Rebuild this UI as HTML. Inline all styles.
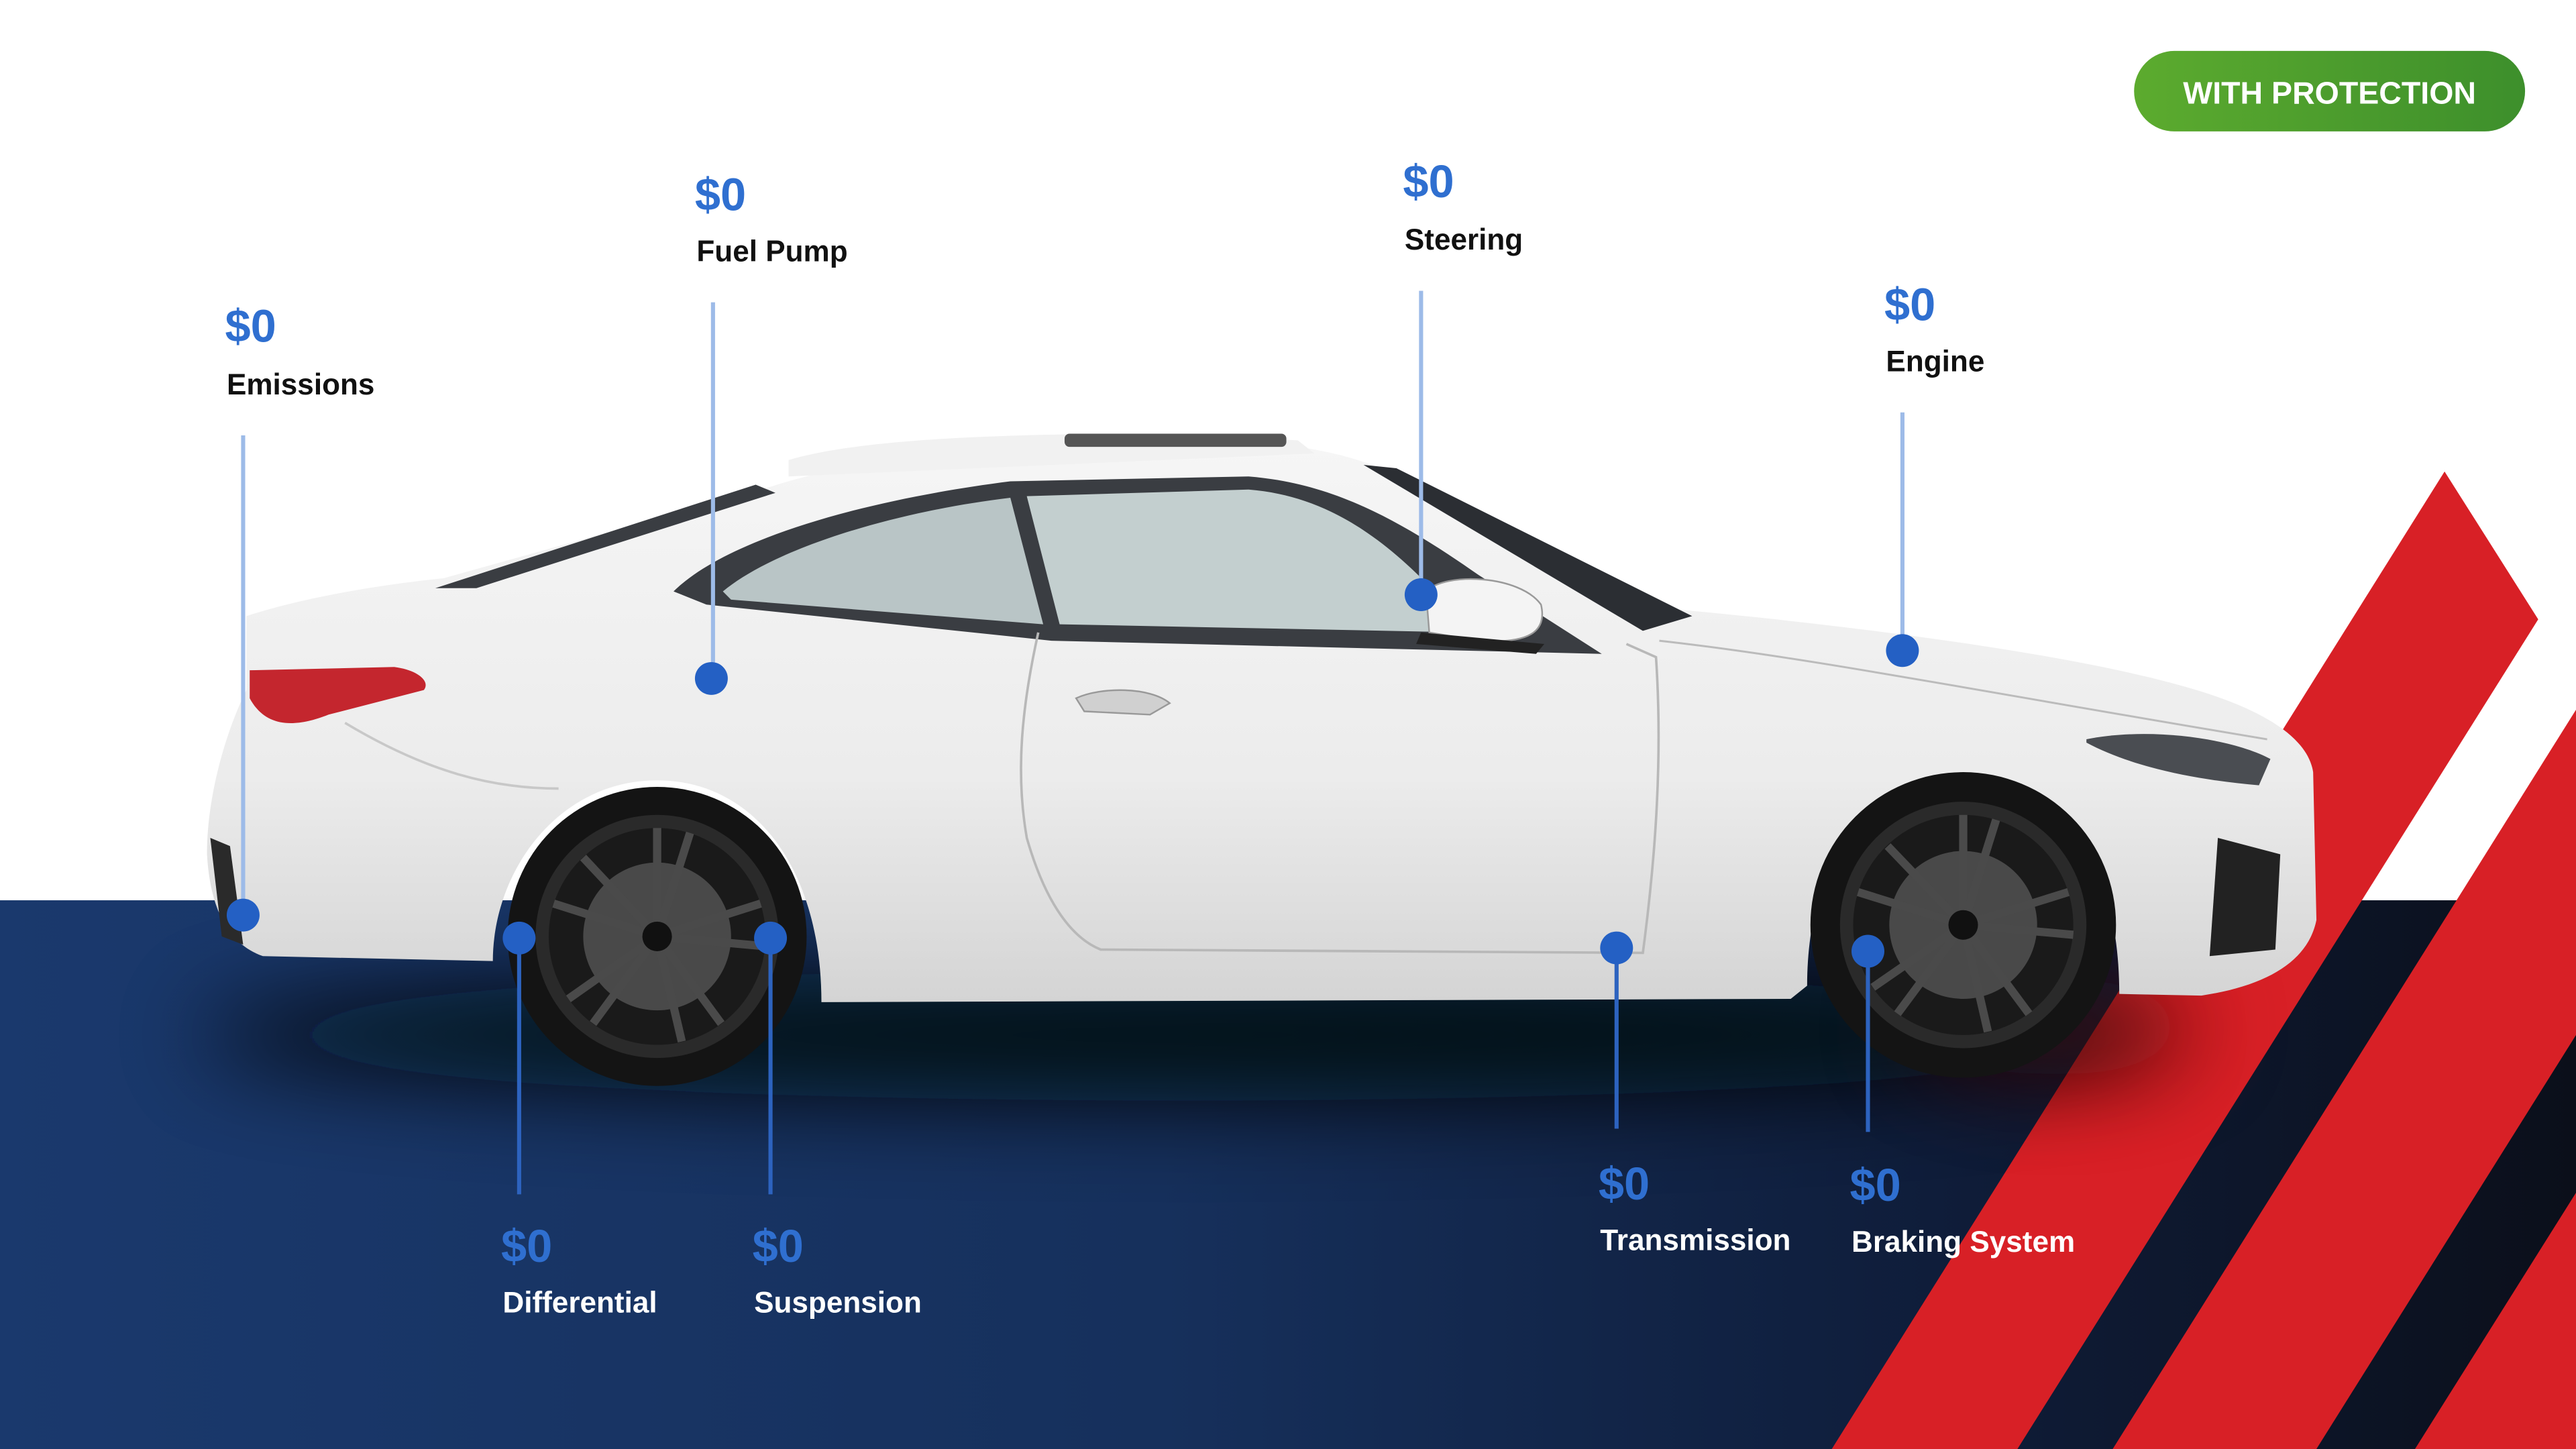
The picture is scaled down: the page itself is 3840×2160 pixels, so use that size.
<!DOCTYPE html>
<html><head><meta charset="utf-8"><style>
html,body{margin:0;padding:0;background:#fff;}
svg{display:block;}
</style></head><body>
<svg xmlns="http://www.w3.org/2000/svg" width="3840" height="2160" viewBox="0 0 1568 882">
<defs>
<linearGradient id="navy" x1="0" y1="0" x2="1" y2="0">
<stop offset="0" stop-color="#1a396d"/><stop offset="0.45" stop-color="#16305c"/><stop offset="0.75" stop-color="#0f1d3a"/><stop offset="1" stop-color="#0b0f1a"/>
</linearGradient>
<linearGradient id="btn" x1="0" y1="0" x2="1" y2="0">
<stop offset="0" stop-color="#5cab2e"/><stop offset="1" stop-color="#3d8f2c"/>
</linearGradient>
<linearGradient id="body" x1="0" y1="0" x2="0" y2="1">
<stop offset="0" stop-color="#f6f6f6"/><stop offset="0.6" stop-color="#ececec"/><stop offset="1" stop-color="#d4d4d4"/>
</linearGradient>
<filter id="blur" x="-30%" y="-300%" width="160%" height="700%"><feGaussianBlur stdDeviation="28"/></filter>
</defs>
<rect width="1568" height="882" fill="#fff"/>
<rect x="0" y="548" width="1568" height="334" fill="url(#navy)"/>
<polygon points="1488,287 1545,377 1228,882 1115,882" fill="#d82026"/>
<polygon points="1568,432 1568,630 1410,882 1286,882" fill="#d82026"/>
<polygon points="1568,726 1568,882 1470,882" fill="#d82026"/>
<ellipse cx="720" cy="630" rx="600" ry="40" fill="#05070d" opacity="0.9" filter="url(#blur)"/>
<ellipse cx="1250" cy="625" rx="90" ry="30" fill="#5a0c10" opacity="0.5" filter="url(#blur)"/>
<path d="M150,375 C190,362 240,355 270,352 L470,296 C520,280 600,268 700,266 C760,266 810,272 840,285 L1010,370 C1100,378 1250,395 1330,418 C1380,432 1405,450 1408,470 L1410,560 C1405,585 1380,600 1340,606 L1290,605 C1290,520 1250,470 1195,470 C1140,470 1100,520 1100,600 L1090,608 L500,610 C500,530 460,475 400,475 C340,475 300,530 300,585 L160,582 C140,575 128,555 126,520 C126,480 140,440 150,420 Z" fill="url(#body)"/>
<path d="M480,280 C520,268 600,264 700,264 L790,268 L800,276 L480,290 Z" fill="#f1f1f1"/>
<rect x="648" y="264" width="135" height="8" rx="3" fill="#555"/>
<path d="M410,360 C440,330 520,305 615,293 L760,290 C810,294 850,315 900,350 L975,398 L640,390 L430,368 Z" fill="#3a3d42"/>
<path d="M440,360 C470,335 540,312 615,303 L635,380 L445,365 Z" fill="#b9c5c6"/>
<path d="M625,302 L760,298 C810,302 850,330 895,385 L645,380 Z" fill="#c3cfcf"/>
<polygon points="830,283 850,285 1030,375 1000,384" fill="#2b2e33"/>
<polygon points="265,358 460,295 472,300 290,358" fill="#3a3d42"/>
<path d="M868,360 C880,348 925,350 938,368 C942,385 930,392 900,390 L870,385 Z" fill="#f4f4f4" stroke="#999" stroke-width="1"/>
<path d="M865,385 L940,392 L935,398 L862,392 Z" fill="#222"/>
<path d="M210,440 C260,470 300,480 340,480" stroke="#c8c8c8" stroke-width="1.5" fill="none"/>
<path d="M632,385 C622,430 618,470 625,510 C635,545 650,570 670,578 L1000,580 C1008,520 1012,460 1008,400 L990,392" stroke="#b8b8b8" stroke-width="1.5" fill="none"/>
<path d="M1010,390 C1100,400 1200,420 1380,450" stroke="#bbb" stroke-width="1.2" fill="none"/>
<path d="M655,425 C670,418 700,418 712,428 L700,435 L660,433 Z" fill="#d0d0d0" stroke="#999" stroke-width="1"/>
<path d="M152,408 L240,406 C255,408 262,415 258,420 L200,435 C175,445 160,440 152,425 Z" fill="#c4262e"/>
<path d="M1270,450 C1310,442 1360,450 1382,462 L1375,478 C1340,475 1300,468 1270,452 Z" fill="#4a4d52"/>
<polygon points="1350,510 1388,520 1385,578 1345,582" fill="#222"/>
<path d="M128,510 L140,515 L148,575 L135,570 Z" fill="#2a2a2a"/>
<g transform="translate(400,570)">
<circle r="91" fill="#141414"/><circle r="74" fill="#2a2a2a"/><circle r="66" fill="#1a1a1a"/>
<circle r="45" fill="#777" opacity="0.5"/>
<g stroke="#4a4a4a" stroke-width="5">
<line x1="0" y1="0" x2="0" y2="-66"/><line x1="0" y1="0" x2="63" y2="-20"/><line x1="0" y1="0" x2="39" y2="53"/><line x1="0" y1="0" x2="-39" y2="53"/><line x1="0" y1="0" x2="-63" y2="-20"/>
<line x1="0" y1="0" x2="20" y2="-63"/><line x1="0" y1="0" x2="66" y2="6"/><line x1="0" y1="0" x2="15" y2="64"/><line x1="0" y1="0" x2="-54" y2="38"/><line x1="0" y1="0" x2="-45" y2="-48"/>
</g><circle r="9" fill="#111"/></g>
<g transform="translate(1195,563)">
<circle r="93" fill="#141414"/><circle r="75" fill="#2a2a2a"/><circle r="67" fill="#1a1a1a"/>
<circle r="45" fill="#777" opacity="0.5"/>
<g stroke="#4a4a4a" stroke-width="5">
<line x1="0" y1="0" x2="0" y2="-67"/><line x1="0" y1="0" x2="64" y2="-20"/><line x1="0" y1="0" x2="40" y2="54"/><line x1="0" y1="0" x2="-40" y2="54"/><line x1="0" y1="0" x2="-64" y2="-20"/>
<line x1="0" y1="0" x2="20" y2="-64"/><line x1="0" y1="0" x2="67" y2="6"/><line x1="0" y1="0" x2="15" y2="65"/><line x1="0" y1="0" x2="-55" y2="38"/><line x1="0" y1="0" x2="-46" y2="-48"/>
</g><circle r="9" fill="#111"/></g>
<g stroke-width="2.5">
<line x1="148" y1="265" x2="148" y2="548" stroke="#9dbbe8"/>
<line x1="434" y1="184" x2="434" y2="413" stroke="#9dbbe8"/>
<line x1="865" y1="177" x2="865" y2="362" stroke="#9dbbe8"/>
<line x1="1158" y1="251" x2="1158" y2="396" stroke="#9dbbe8"/>
<line x1="316" y1="571" x2="316" y2="727" stroke="#2d63bf"/>
<line x1="469" y1="571" x2="469" y2="727" stroke="#2d63bf"/>
<line x1="984" y1="577" x2="984" y2="687" stroke="#2d63bf"/>
<line x1="1137" y1="579" x2="1137" y2="689" stroke="#2d63bf"/>
</g>
<g fill="#2460c4">
<circle cx="148" cy="557" r="10"/><circle cx="433" cy="413" r="10"/><circle cx="865" cy="362" r="10"/><circle cx="1158" cy="396" r="10"/>
<circle cx="316" cy="571" r="10"/><circle cx="469" cy="571" r="10"/><circle cx="984" cy="577" r="10"/><circle cx="1137" cy="579" r="10"/>
</g>
<g font-family="Liberation Sans, sans-serif" font-weight="bold">
<g fill="#2f6fd0" font-size="28">
<text x="137" y="208">$0</text><text x="423" y="128">$0</text><text x="854" y="120">$0</text><text x="1147" y="195">$0</text>
<text x="305" y="768">$0</text><text x="458" y="768">$0</text><text x="973" y="730">$0</text><text x="1126" y="731">$0</text>
</g>
<g fill="#111" font-size="18">
<text x="138" y="240">Emissions</text><text x="424" y="159">Fuel Pump</text><text x="855" y="152">Steering</text><text x="1148" y="226">Engine</text>
</g>
<g fill="#fff" font-size="18">
<text x="306" y="799">Differential</text><text x="459" y="799">Suspension</text><text x="974" y="761">Transmission</text><text x="1127" y="762">Braking System</text>
</g>
</g>
<rect x="1299" y="31" width="238" height="49" rx="24.5" fill="url(#btn)"/>
<text x="1418" y="63" text-anchor="middle" fill="#fff" font-family="Liberation Sans, sans-serif" font-weight="bold" font-size="19">WITH PROTECTION</text>
</svg>
</body></html>
